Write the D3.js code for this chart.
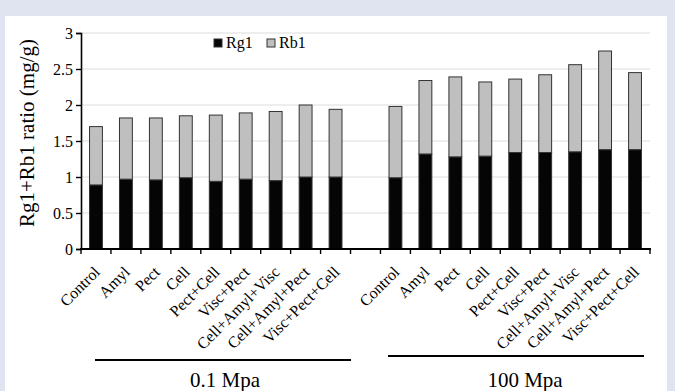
<!DOCTYPE html>
<html><head><meta charset="utf-8">
<script src="https://cdn.jsdelivr.net/npm/d3@7"></script>
<style>
html,body{margin:0;padding:0;background:#e0e4f1;}
svg{display:block;}
svg text{font-family:"Liberation Serif","Times New Roman","DejaVu Serif",serif !important;fill:#000;}
</style></head>
<body>
<svg id="chart" width="675" height="391"></svg>
<script>
const categories = ["Control","Amyl","Pect","Cell","Pect+Cell","Visc+Pect","Cell+Amyl+Visc","Cell+Amyl+Pect","Visc+Pect+Cell"];
const groups = ["0.1 Mpa","100 Mpa"];
const rg1_01 = [0.89,0.97,0.96,0.99,0.94,0.97,0.95,1.00,1.00];
const rb1_01 = [0.81,0.85,0.86,0.86,0.92,0.92,0.96,1.00,0.94];
const rg1_100 = [0.99,1.32,1.28,1.29,1.34,1.34,1.35,1.38,1.38];
const rb1_100 = [0.99,1.02,1.11,1.03,1.02,1.08,1.21,1.37,1.07];
const yTicks = [0,0.5,1,1.5,2,2.5,3];
const seriesNames = ["Rg1","Rb1"];
const seriesColors = ["#050505","#bfbfbf"];

const FONT = '"Liberation Serif","Times New Roman","DejaVu Serif",serif';
const svg = d3.select("#chart").attr("font-family",FONT);
svg.append("rect").attr("x",5).attr("y",16).attr("width",662).attr("height",380).attr("fill","#fff");

const rows = [];
groups.forEach((g,gi)=>{
  categories.forEach((c,i)=>{
    rows.push({key:g+"|"+c, group:g, cat:c,
      rg1: gi===0?rg1_01[i]:rg1_100[i],
      rb1: gi===0?rb1_01[i]:rb1_100[i]});
  });
  if(gi===0) rows.push({key:"gap", gap:true});
});

const x = d3.scaleBand().domain(rows.map(d=>d.key)).range([81,650]).paddingInner(0).paddingOuter(0);
const y = d3.scaleLinear().domain([0,3]).range([249,33]);

// gridlines
svg.append("g").selectAll("line").data(yTicks.filter(t=>t>0)).join("line")
  .attr("x1",81).attr("x2",650).attr("y1",d=>y(d)).attr("y2",d=>y(d))
  .attr("stroke","#dcdcdc").attr("stroke-width",1);

// bars
const bw = x.step()*0.43;
const bars = svg.append("g");
rows.filter(d=>!d.gap).forEach(d=>{
  const cx = x(d.key)+x.bandwidth()/2;
  bars.append("rect").attr("x",cx-bw/2).attr("width",bw)
    .attr("y",y(d.rg1)).attr("height",y(0)-y(d.rg1))
    .attr("fill",seriesColors[0]).attr("stroke","#333").attr("stroke-width",1);
  bars.append("rect").attr("x",cx-bw/2).attr("width",bw)
    .attr("y",y(d.rg1+d.rb1)).attr("height",y(d.rg1)-y(d.rg1+d.rb1))
    .attr("fill",seriesColors[1]).attr("stroke","#333").attr("stroke-width",1);
});

// y axis
const ya = svg.append("g").attr("transform","translate(81,0)")
  .call(d3.axisLeft(y).tickValues(yTicks).tickFormat(d3.format("")).tickSize(5).tickPadding(3));
ya.attr("font-family",FONT).attr("font-size",16);
ya.select(".domain").attr("stroke","#000").attr("stroke-width",1.6);
ya.selectAll(".tick line").attr("stroke","#000").attr("stroke-width",1.4);
ya.selectAll(".tick text").style("font-family",FONT).style("font-size","16px").attr("fill","#000");

// x axis
const xa = svg.append("g");
xa.append("line").attr("x1",80).attr("x2",651).attr("y1",249).attr("y2",249).attr("stroke","#000").attr("stroke-width",1.8);
const bounds = rows.map(d=>x(d.key)).concat([x(rows[rows.length-1].key)+x.step()]);
xa.selectAll("line.tk").data(bounds).join("line").attr("class","tk")
  .attr("x1",d=>d).attr("x2",d=>d).attr("y1",249).attr("y2",254)
  .attr("stroke","#000").attr("stroke-width",1.4);
xa.selectAll("text").data(rows.filter(d=>!d.gap)).join("text")
  .attr("transform",d=>`translate(${x(d.key)+x.bandwidth()/2+5},273) rotate(-45)`)
  .attr("text-anchor","end").style("font-family",FONT).style("font-size","16px").text(d=>d.cat);

// group lines and labels
const gInfo = [{x1:95,x2:351,y:360,tx:225},{x1:388,x2:644,y:356,tx:525}];
groups.forEach((g,i)=>{
  svg.append("line").attr("x1",gInfo[i].x1).attr("x2",gInfo[i].x2).attr("y1",gInfo[i].y).attr("y2",gInfo[i].y)
    .attr("stroke","#000").attr("stroke-width",2);
  svg.append("text").attr("x",gInfo[i].tx).attr("y",387).attr("text-anchor","middle")
    .style("font-family",FONT).style("font-size","21px").text(g);
});

// y title
svg.append("text").attr("transform","translate(34,133) rotate(-90)").attr("text-anchor","middle")
  .style("font-family",FONT).style("font-size","21px").text("Rg1+Rb1 ratio (mg/g)");

// legend
const lx = [214,267];
seriesNames.forEach((s,i)=>{
  svg.append("rect").attr("x",lx[i]).attr("y",39).attr("width",8).attr("height",8)
    .attr("fill",seriesColors[i]).attr("stroke","#333").attr("stroke-width",1);
  svg.append("text").attr("x",lx[i]+12).attr("y",48).style("font-family",FONT).style("font-size","16px").text(s);
});
</script>
</body></html>
